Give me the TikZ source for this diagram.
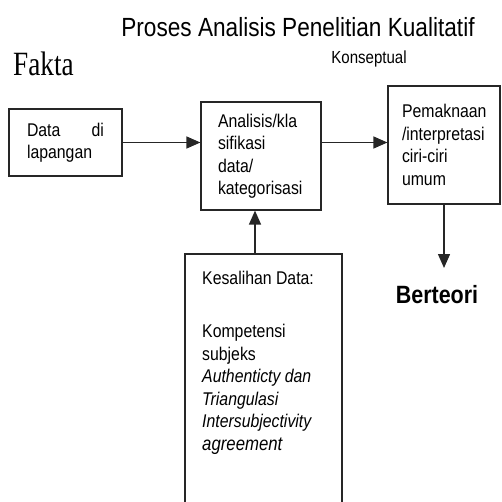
\documentclass[tikz,border=0pt]{standalone}
\usepackage{fontspec}
\setmainfont{Liberation Sans}[FakeStretch=0.86]
\newfontfamily\faktafont{Liberation Serif}[FakeStretch=0.8]
\usetikzlibrary{arrows.meta}
\tikzset{
	box/.style={draw=black!85,line width=1.2pt,align=left,inner ysep=0pt,
		font=\fontsize{18.4}{22.5}\selectfont},
	arr/.style={line width=1.4pt,black!85,-{Triangle[length=14pt,width=12pt]}},
}
\begin{document}
\begin{tikzpicture}[x=1pt,y=-1pt]
		\useasboundingbox (0,0) rectangle (502,502);
		\clip (0,0) rectangle (502,502);
		% headings
		\node[anchor=base,font=\fontsize{26.3}{30}\selectfont] (title) at (298,37) {Proses Analisis Penelitian Kualitatif};
		\node[anchor=base,font=\fontsize{17.5}{20}\selectfont] (konsep) at (369,64) {Konseptual};
		\node[anchor=base west,inner sep=0pt,font=\faktafont\fontsize{34}{36}\selectfont] (fakta) at (13,76) {Fakta};
		% boxes
		\node[box,text width=77pt,inner xsep=18pt,minimum height=67pt] (lapangan) at (65.5,142.5) {Data\hfill di\\lapangan};
		\node[box,text width=86pt,inner xsep=17pt,minimum height=108pt] (analisis) at (261,156) {Analisis/kla\\sifikasi\\data/\\kategorisasi};
		\node[box,text width=84pt,inner xsep=14pt,minimum height=118pt] (makna) at (444,145) {Pemaknaan\\/interpretasi\\ciri-ciri\\umum};
		\node[box,minimum width=157pt,minimum height=306pt] (valid) at (263.5,407) {};
		\node[anchor=north west,align=left,inner sep=0pt,font=\fontsize{18.4}{22.5}\selectfont] (validtext) at (202,271) {Kesalihan Data:\\[8pt]\\Kompetensi\\subjeks\\\itshape Authenticty dan\\\itshape Triangulasi\\\itshape Intersubjectivity\\\itshape\fontsize{19.5}{22.5}\selectfont agreement};
		\node[anchor=base,font=\bfseries\fontsize{25}{28}\selectfont] (teori) at (437,303) {Berteori};
		\coordinate (teoritop) at (444,268);
		% arrows
		\draw[arr] (lapangan.east) -- (lapangan.east -| analisis.west);
		\draw[arr] (analisis.east |- lapangan.east) -- (makna.west |- lapangan.east);
		\draw[arr] (makna.south) -- (teoritop);
		\draw[arr] ([xshift=-8.5pt]valid.north) -- ([xshift=-8.5pt]valid.north |- analisis.south);
	\end{tikzpicture}
\end{document}
